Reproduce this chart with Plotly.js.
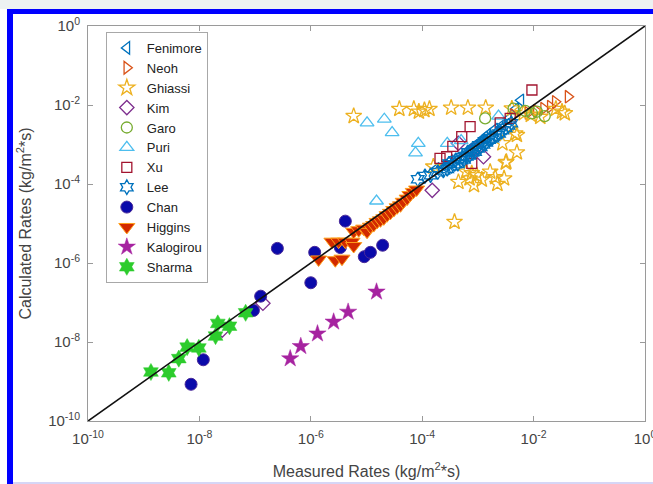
<!DOCTYPE html>
<html>
<head>
<meta charset="utf-8">
<script src="https://cdn.plot.ly/plotly-3.0.1.min.js"></script>
<style>
  html, body { margin: 0; padding: 0; background: #ffffff; }
  #frame { position: absolute; left: 0; top: 0; width: 653px; height: 484px; overflow: hidden; background: #ffffff; }
  #strip { position: absolute; left: 0; top: 0; width: 653px; height: 9px; background: #edf2f2; }
  #border { position: absolute; left: 7px; top: 9px; width: 646px; height: 475px; box-sizing: border-box;
            border-left: 6px solid #0000ff; border-top: 5px solid #0000ff; }
  #baseline { position: absolute; left: 13px; top: 482px; width: 640px; height: 2px; background: #d6d6f6; }
  #chart { position: absolute; left: 0; top: 0; width: 653px; height: 484px; }
</style>
</head>
<body>
<div id="frame">
  <div id="strip"></div>
  <div id="border"></div>
  <div id="baseline"></div>
  <div id="chart"></div>
</div>
<script>
// Rates are stored as log10 exponents (kg/m^2*s): measured (x) and calculated (y).
const fenimoreX = [-2.23, -2.32, -2.45, -2.55, -2.70, -2.82, -2.95, -3.05, -3.15, -3.27, -3.38, -3.50, -3.60, -3.75, -2.62, -2.88, -3.12];
const fenimoreY = [-1.88, -2.10, -2.35, -2.50, -2.62, -2.75, -2.92, -3.02, -3.12, -3.30, -3.35, -3.42, -3.55, -3.62, -2.70, -2.82, -3.18];

const neohX = [-1.38, -1.61, -1.70, -1.82, -2.36, -1.95, -2.10];
const neohY = [-1.79, -1.92, -2.04, -2.09, -2.25, -2.15, -2.20];

const ghiassiX = [-5.23, -4.41, -4.15, -4.06, -3.96, -3.87, -3.48, -3.18, -2.86, -3.42, -2.50, -2.56, -2.30, -1.44,
                  -3.21, -3.15, -3.07, -3.02, -2.93, -3.11, -2.78, -2.69, -2.65, -2.53, -2.49, -2.33, -3.80, -2.18,
                  -1.88, -1.49, -2.39, -1.60, -2.05, -3.35, -2.30];
const ghiassiY = [-2.28, -2.10, -2.10, -2.17, -2.13, -2.10, -2.07, -2.07, -2.07, -4.96, -3.46, -2.97, -2.76, -2.21,
                  -3.69, -3.86, -4.03, -3.78, -3.89, -3.73, -3.69, -3.83, -4.00, -3.86, -3.44, -2.72, -3.56, -2.21,
                  -2.30, -2.17, -2.09, -2.10, -2.25, -3.95, -3.20];

const kimX = [-3.82, -2.90, -3.35, -6.86, -7.59, -3.05];
const kimY = [-4.16, -3.31, -2.97, -7.02, -7.70, -3.10];

const garoX = [-2.87, -2.03, -1.94, -2.36, -2.15, -1.80];
const garoY = [-2.34, -2.21, -2.17, -2.09, -2.15, -2.28];

const puriX = [-4.99, -4.68, -4.54, -4.07, -4.12, -3.55, -4.82, -2.63, -3.30];
const puriY = [-2.45, -2.36, -2.70, -2.97, -3.21, -2.97, -4.43, -2.28, -2.90];

const xuX = [-2.03, -3.14, -3.29, -3.68, -3.56, -2.42, -3.11, -2.60, -3.45];
const xuY = [-1.62, -2.55, -2.80, -3.35, -3.31, -2.34, -3.48, -2.45, -3.05];

const leeX = [-4.08, -3.95, -3.85, -3.72, -3.62, -3.55, -3.48, -3.42, -3.36, -3.30, -3.25, -3.20, -3.15, -3.10,
              -3.05, -3.00, -2.95, -2.90, -2.85, -2.80, -2.74, -2.68, -2.62, -2.56, -2.50, -2.45, -2.40,
              -3.52, -3.40, -3.28, -3.18, -3.08, -2.98, -2.88, -2.78];
const leeY = [-3.88, -3.80, -3.78, -3.70, -3.66, -3.62, -3.55, -3.50, -3.49, -3.40, -3.38, -3.30, -3.28, -3.20,
              -3.18, -3.10, -3.06, -3.00, -2.95, -2.88, -2.84, -2.76, -2.72, -2.64, -2.58, -2.52, -2.46,
              -3.48, -3.40, -3.32, -3.20, -3.14, -3.02, -2.92, -2.85];

const chanX = [-8.15, -7.93, -7.03, -6.90, -6.60, -6.00, -5.93, -5.38, -5.04, -4.93, -4.71, -5.47];
const chanY = [-9.07, -8.45, -7.20, -6.84, -5.63, -6.50, -5.73, -4.94, -5.84, -5.73, -5.55, -5.61];

const higginsX = [-5.86, -5.62, -5.56, -5.44, -5.50, -5.38, -5.26, -5.23, -5.23, -5.14, -5.05, -4.99, -4.93, -4.87,
                  -4.81, -4.75, -4.69, -4.63, -4.57, -4.51, -4.45, -4.39, -4.34, -4.27, -4.22, -4.16, -4.10];
const higginsY = [-5.91, -5.46, -5.93, -5.89, -5.46, -5.46, -5.46, -5.57, -5.21, -5.17, -5.13, -5.21, -5.08, -5.04,
                  -4.96, -4.92, -4.87, -4.79, -4.73, -4.66, -4.59, -4.54, -4.45, -4.37, -4.28, -4.20, -4.14];

const kalogirouX = [-6.37, -6.18, -5.88, -5.59, -5.33, -4.82];
const kalogirouY = [-8.42, -8.11, -7.79, -7.49, -7.24, -6.73];

const sharmaX = [-8.87, -8.55, -8.37, -8.22, -8.01, -7.71, -7.67, -7.46, -7.17];
const sharmaY = [-8.76, -8.78, -8.42, -8.13, -8.15, -7.85, -7.53, -7.60, -7.26];

const tickExponents = [-10, -8, -6, -4, -2, 0];

const toRate = e => Math.pow(10, e);

function series(name, xs, ys, marker) {
  return {
    type: 'scatter', mode: 'markers', name: name,
    x: xs.map(toRate), y: ys.map(toRate),
    marker: marker, cliponaxis: true
  };
}

const openLine = { width: 1.3 };

const traces = [
  series('Fenimore', fenimoreX, fenimoreY, { symbol: 'triangle-left-open', color: '#0072BD', size: 11, line: openLine }),
  series('Neoh', neohX, neohY, { symbol: 'triangle-right-open', color: '#D95319', size: 11, line: openLine }),
  series('Ghiassi', ghiassiX, ghiassiY, { symbol: 'star-open', color: '#EDB120', size: 12, line: openLine }),
  series('Kim', kimX, kimY, { symbol: 'diamond-open', color: '#7E2F8E', size: 11, line: openLine }),
  series('Garo', garoX, garoY, { symbol: 'circle-open', color: '#77AC30', size: 11, line: openLine }),
  series('Puri', puriX, puriY, { symbol: 'triangle-up-open', color: '#4DBEEE', size: 12, line: openLine }),
  series('Xu', xuX, xuY, { symbol: 'square-open', color: '#A2142F', size: 10, line: openLine }),
  series('Lee', leeX, leeY, { symbol: 'hexagram-open', color: '#0072BD', size: 11, line: openLine }),
  series('Chan', chanX, chanY, { symbol: 'circle', color: '#0a0aaa', size: 12, line: { color: '#4a2a9a', width: 1 } }),
  series('Higgins', higginsX, higginsY, { symbol: 'triangle-down', color: '#d22a00', size: 14, line: { color: '#ff9e1a', width: 1 } }),
  series('Kalogirou', kalogirouX, kalogirouY, { symbol: 'star', color: '#a623a0', size: 13, line: { color: '#a623a0', width: 0.5 } }),
  series('Sharma', sharmaX, sharmaY, { symbol: 'hexagram', color: '#2ccc2c', size: 13, line: { color: '#2ccc2c', width: 0.5 } }),
  {
    type: 'scatter', mode: 'lines', showlegend: false, hoverinfo: 'skip',
    x: [toRate(-10), toRate(0)], y: [toRate(-10), toRate(0)],
    line: { color: '#111111', width: 1.6 }
  }
];

const tickVals = tickExponents.map(toRate);
const tickText = tickExponents.map(e => '10<sup>' + e + '</sup>');

const axisBase = {
  type: 'log', range: [-10, 0],
  tickvals: tickVals, ticktext: tickText,
  showline: true, mirror: 'ticks', linecolor: '#9a9a9a', linewidth: 1,
  ticks: 'inside', ticklen: 5, tickcolor: '#9a9a9a', tickwidth: 1,
  showgrid: false, zeroline: false, automargin: false,
  ticklabeloverflow: 'allow',
  tickfont: { family: 'Liberation Sans, Arial, sans-serif', size: 15, color: '#444444' }
};

const layout = {
  width: 653, height: 484,
  margin: { l: 88, r: 8, t: 26, b: 63 },
  paper_bgcolor: 'rgba(0,0,0,0)',
  plot_bgcolor: '#ffffff',
  font: { family: 'Liberation Sans, Arial, sans-serif', color: '#444444' },
  showlegend: true,
  legend: {
    x: 0.032, y: 0.985, xanchor: 'left', yanchor: 'top',
    bgcolor: '#ffffff', bordercolor: '#a8a8a8', borderwidth: 1,
    itemwidth: 30,
    font: { family: 'Liberation Sans, Arial, sans-serif', size: 13, color: '#222222' }
  },
  xaxis: Object.assign({}, axisBase, {
    ticklabelstandoff: 4,
    title: { text: 'Measured Rates (kg/m<sup>2</sup>*s)', standoff: 19,
             font: { family: 'Liberation Sans, Arial, sans-serif', size: 16, color: '#444444' } }
  }),
  yaxis: Object.assign({}, axisBase, {
    ticklabelstandoff: 4,
    title: { text: 'Calculated Rates (kg/m<sup>2</sup>*s)', standoff: 12,
             font: { family: 'Liberation Sans, Arial, sans-serif', size: 16, color: '#444444' } }
  })
};

Plotly.newPlot('chart', traces, layout, { displayModeBar: false, staticPlot: true });
</script>
</body>
</html>
